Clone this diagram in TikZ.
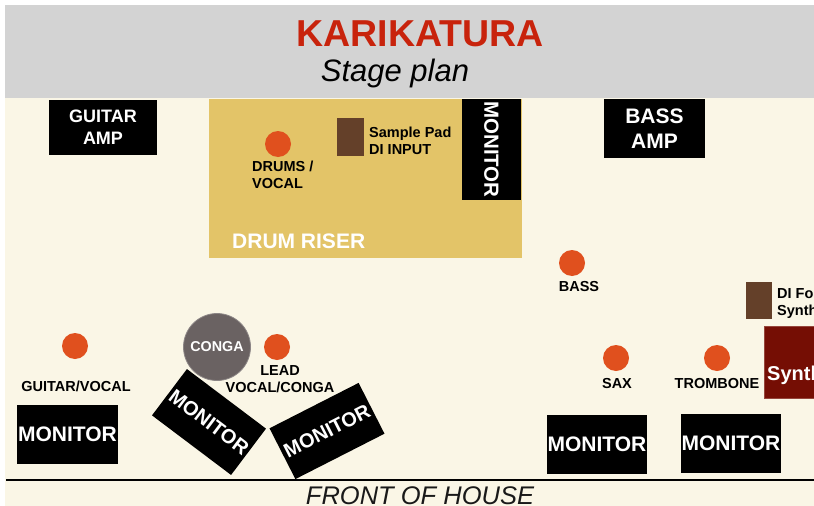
\documentclass[tikz,border=0pt]{standalone}
\usepackage{fontspec}
\setmainfont{Liberation Sans}
\definecolor{cream}{RGB}{250,246,230}
\definecolor{banner}{RGB}{211,211,211}
\definecolor{titlered}{RGB}{200,35,12}
\definecolor{riser}{RGB}{227,196,104}
\definecolor{micor}{RGB}{224,80,30}
\definecolor{dibrown}{RGB}{100,64,41}
\definecolor{synthred}{RGB}{117,14,4}
\definecolor{congagray}{RGB}{106,98,98}
\begin{document}
\begin{tikzpicture}[x=1pt,y=-1pt,
  ampbox/.style={fill=black,text=white,align=center,inner sep=0pt,font=\bfseries},
  monbox/.style={fill=black,text=white,inner sep=0pt,minimum width=100pt,minimum height=59pt,font=\fontsize{21}{24}\selectfont\bfseries},
  mic/.style={circle,fill=micor,minimum size=26pt,inner sep=0pt},
  lbl/.style={text=black,inner sep=0pt,font=\fontsize{14.5}{17}\selectfont\bfseries},
  dibox/.style={fill=dibrown,inner sep=0pt}]
\useasboundingbox (0,0) rectangle (814,506);
\begin{scope}
\clip (0,0) rectangle (814,506);
% background
\fill[white] (0,0) rectangle (814,506);
\fill[cream] (5,98) rectangle (814,506);
\fill[banner] (5,5) rectangle (814,98);
% title
\node[anchor=base,inner sep=0pt,text=titlered,font=\fontsize{37.5}{40}\selectfont\bfseries] (title) at (420,46) {KARIKATURA};
\node[anchor=base,inner sep=0pt,text=black,font=\fontsize{31}{34}\selectfont\itshape] (subtitle) at (395,81) {Stage plan};
% drum riser
\node[fill=riser,inner sep=0pt,minimum width=313pt,minimum height=159pt] (riser) at (365.5,178.5) {};
\node[anchor=west,inner sep=0pt,text=white,font=\fontsize{21}{24}\selectfont\bfseries] (riserlbl) at (232,241) {DRUM RISER};
% amps
\node[ampbox,minimum width=108pt,minimum height=55pt,font=\fontsize{18}{22}\selectfont\bfseries] (gamp) at (103,127.5) {GUITAR\\AMP};
\node[ampbox,minimum width=101pt,minimum height=59pt,font=\fontsize{21}{25}\selectfont\bfseries] (bamp) at (654.5,128.5) {BASS\\AMP};
% riser monitor
\node[monbox,minimum width=101pt,minimum height=59pt,rotate=-90,font=\fontsize{20.5}{24}\selectfont\bfseries] (rmon) at (491.5,149.5) {MONITOR};
% drums
\node[mic] (drums) at (278,144) {};
\node[lbl,anchor=west,align=left] (drumslbl) at (252,175) {DRUMS /\\VOCAL};
\node[dibox,minimum width=27pt,minimum height=38pt] (pad) at (350.5,137) {};
\node[lbl,anchor=west,align=left] (padlbl) at (369,141) {Sample Pad\\DI INPUT};
% bass
\node[mic] (bass) at (572,263) {};
\node[lbl] (basslbl) at (579,287) {BASS};
% synth
\node[dibox,minimum width=26pt,minimum height=37pt] (di) at (759,300.5) {};
\node[lbl,anchor=west,align=left] (dilbl) at (777,304) {DI For\\Synth};
\fill[synthred,draw={rgb,255:red,150;green,70;blue,60},line width=0.8pt] (764,326) rectangle (830,398);
\node[anchor=west,inner sep=0pt,text=white,font=\fontsize{20}{24}\selectfont\bfseries] (synth) at (767,375) {Synth};
% guitar
\node[mic] (guitar) at (75,346) {};
\node[lbl] (guitarlbl) at (76,386) {GUITAR/VOCAL};
% conga and lead
\node[circle,fill=congagray,draw={rgb,255:red,140;green,134;blue,134},line width=0.8pt,minimum size=67pt,inner sep=0pt,text=white,font=\fontsize{14.3}{17}\selectfont\bfseries] (conga) at (217,347) {CONGA};
\node[mic] (lead) at (277,347) {};
\node[lbl,align=center] (leadlbl) at (280,379) {LEAD\\VOCAL/CONGA};
% sax, trombone
\node[mic] (sax) at (616,358) {};
\node[lbl] (saxlbl) at (617,384) {SAX};
\node[mic] (trombone) at (717,358) {};
\node[lbl] (trombonelbl) at (717,384) {TROMBONE};
% monitors
\node[monbox,minimum width=101pt] (monL) at (67.5,434.5) {MONITOR};
\node[monbox,minimum width=99pt,minimum height=58pt,rotate=-37,font=\fontsize{20}{24}\selectfont\bfseries] (monA) at (209,422) {MONITOR};
\node[monbox,minimum width=100pt,minimum height=57pt,rotate=27,font=\fontsize{20}{24}\selectfont\bfseries] (monB) at (327,431) {MONITOR};
\node[monbox] (mon1) at (597,444.5) {MONITOR};
\node[monbox] (mon2) at (731,443.5) {MONITOR};
% front line
\coordinate (fl) at (6,480);
\coordinate (fr) at (814,480);
\draw[black,line width=2.2pt] (fl) -- (fr);
\node[anchor=base,inner sep=0pt,text={rgb,255:red,25;green,25;blue,25},font=\fontsize{25.5}{28}\selectfont\itshape] (foh) at (420,504) {FRONT OF HOUSE};
\end{scope}
\end{tikzpicture}
\end{document}
